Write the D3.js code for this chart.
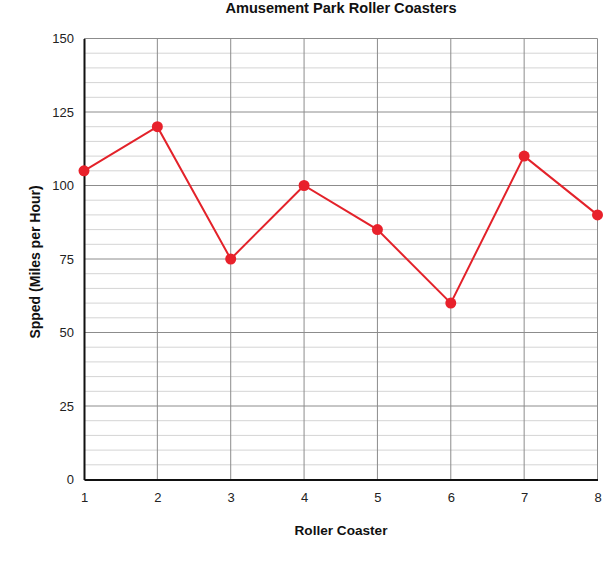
<!DOCTYPE html>
<html><head><meta charset="utf-8">
<script src="https://cdn.jsdelivr.net/npm/d3@7"></script>
<style>body{margin:0;background:#fff;}svg{display:block;font-family:"Liberation Sans",Arial,sans-serif;}</style>
</head><body><svg id="c" width="615" height="561"></svg>
<script>
const coasters = [1,2,3,4,5,6,7,8];
const speeds = [105,120,75,100,85,60,110,90];
const yTicks = [0,25,50,75,100,125,150];
const title = "Amusement Park Roller Coasters";
const xTitle = "Roller Coaster";
const yTitle = "Spped (Miles per Hour)";

const svg = d3.select("#c");
const m = {l:84, r:597.5, t:38.5, b:479.5};
const x = d3.scaleLinear().domain([1,8]).range([m.l, m.r]);
const y = d3.scaleLinear().domain([0,150]).range([m.b, m.t]);

// minor grid
svg.append("g").selectAll("line").data(d3.range(0,151,5).filter(v=>v%25!==0)).join("line")
  .attr("x1",m.l).attr("x2",m.r).attr("y1",d=>y(d)).attr("y2",d=>y(d))
  .attr("stroke","#d4d4d4").attr("stroke-width",1);
// major horizontal
svg.append("g").selectAll("line").data(yTicks.filter(v=>v>0)).join("line")
  .attr("x1",m.l).attr("x2",m.r).attr("y1",d=>y(d)).attr("y2",d=>y(d))
  .attr("stroke","#8c8c8c").attr("stroke-width",1);
// vertical
svg.append("g").selectAll("line").data(coasters.slice(1)).join("line")
  .attr("x1",d=>x(d)).attr("x2",d=>x(d)).attr("y1",m.t).attr("y2",m.b)
  .attr("stroke","#8c8c8c").attr("stroke-width",1);

// axes
const yAxis = d3.axisLeft(y).tickValues(yTicks).tickSize(0).tickPadding(10);
const gy = svg.append("g").attr("transform",`translate(${m.l},0)`).call(yAxis);
gy.select(".domain").attr("stroke","#111").attr("stroke-width",2);
gy.selectAll("text").attr("font-size",13).attr("fill","#222").attr("font-family","Liberation Sans, Arial, sans-serif");
const xAxis = d3.axisBottom(x).tickValues(coasters).tickSize(0).tickPadding(13).tickFormat(d3.format("d"));
const gx = svg.append("g").attr("transform",`translate(0,${m.b})`).call(xAxis);
gx.select(".domain").attr("stroke","#111").attr("stroke-width",2);
gx.selectAll("text").attr("font-size",13).attr("fill","#222").attr("font-family","Liberation Sans, Arial, sans-serif");

// line
const pts = coasters.map((c,i)=>[c,speeds[i]]);
svg.append("path").datum(pts)
  .attr("d", d3.line().x(d=>x(d[0])).y(d=>y(d[1])))
  .attr("fill","none").attr("stroke","#e3222a").attr("stroke-width",2);
svg.append("g").selectAll("circle").data(pts).join("circle")
  .attr("cx",d=>x(d[0])).attr("cy",d=>y(d[1])).attr("r",5.5).attr("fill","#e8212b");

// titles
svg.append("text").attr("x",341).attr("y",12.5).attr("text-anchor","middle")
  .attr("font-size",14.6).attr("font-weight","bold").attr("fill","#111").text(title);
svg.append("text").attr("x",341).attr("y",535).attr("text-anchor","middle")
  .attr("font-size",13.6).attr("font-weight","bold").attr("fill","#111").text(xTitle);
svg.append("text").attr("transform","translate(40,262) rotate(-90)").attr("text-anchor","middle")
  .attr("font-size",14).attr("font-weight","bold").attr("fill","#111").text(yTitle);
</script></body></html>
